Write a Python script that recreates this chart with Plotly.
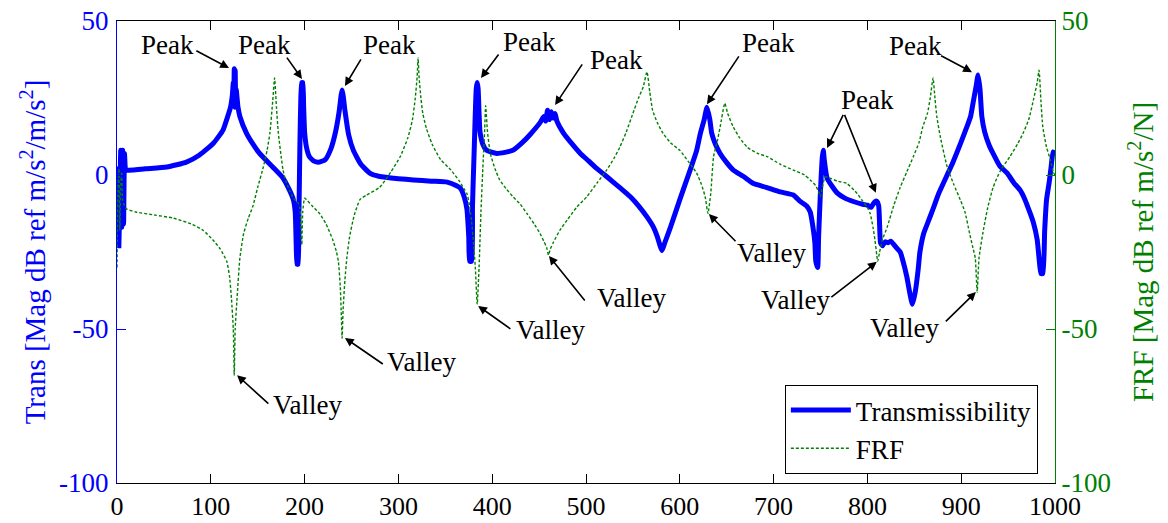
import plotly.graph_objects as go

# ---------------- data ----------------
trans_freq = [0, 1, 2, 3, 4, 5, 6, 7, 8, 9, 10, 17, 30, 53, 74, 88, 103, 113, 118, 121,
              123, 124, 124.5, 125, 125.5, 126, 126.5, 127, 129, 131, 138, 145, 152, 166,
              177, 184, 188, 190, 191, 192, 193, 194, 195, 196, 197, 198, 199, 200, 202,
              205, 210, 216, 222, 228, 233, 237, 239, 240, 241, 243, 247, 252, 260, 270,
              280, 300, 316, 335, 352, 362, 366, 370, 373, 375, 376, 378, 379, 381, 383,
              384, 385, 386, 387, 390, 394, 405, 422, 432, 440, 451, 455, 457, 459, 461,
              463, 465, 467, 469, 476, 484, 494, 503, 511, 520, 529, 538, 547, 556, 565, 572, 576, 579, 581,
              584, 590, 600, 611, 618, 622, 626, 629, 632, 634, 638, 643, 650, 657, 668,
              678, 692, 707, 721, 728, 735, 739, 742, 744, 745, 747, 748, 750, 752, 753,
              754, 757, 762, 768, 776, 785, 795, 800, 804, 806, 808, 810, 812, 813, 814,
              816, 819, 822, 825, 828, 832, 835, 838, 842, 845, 848, 851, 854, 856, 860,
              865, 870, 876, 885, 891, 899, 906, 910, 913, 916, 918, 920, 922, 925, 930,
              934, 941, 949, 956, 963, 968, 973, 977, 981, 983, 985, 987, 989, 991, 994,
              996, 998, 1000]
trans_db = [-22, 2, -23, -8, 8, -17, 8, -16, 7, 2, 1.6, 1.6, 2, 2.6, 4.2, 6.5, 10.4, 14.6, 19, 22,
            26, 30, 23, 34.5, 22, 34, 23, 28, 22, 19, 13.6, 10, 7, 2.6,
            -1, -5, -8, -12, -22, -29, -29, -12, 10, 25, 30, 30, 22, 14, 9,
            6, 4.5, 4.2, 5, 8.5, 14, 21, 26, 27.6, 26, 21, 13, 8, 3.5, 0.5,
            -0.5, -1.2, -1.6, -2, -2.3, -3.5, -4.3, -7, -11, -20, -28, -28, -10, 10, 28,
            30, 28, 20, 14, 10, 8, 7, 8, 10.5, 13, 17, 19, 17.5, 21, 18,
            20.5, 18.5, 20, 17.5, 13.6, 10.5, 7, 4.5, 2.2, 0, -2.3, -4.6, -7, -10, -13.6, -17, -20, -23, -24.5,
            -22, -17, -8, 1.6, 8, 13.6, 18, 22, 18, 13.6, 10, 7, 4, 1.6, -0.5,
            -2.7, -4, -5.5, -6.5, -8.5, -10, -12, -17, -22, -28, -30, -20, -5, 6, 8,
            5, -1, -3.5, -5.9, -7.5, -8.6, -9.5, -9.8, -10.5, -9.5, -8.7, -8.5, -10, -16, -22,
            -23, -21.7, -22, -21.5, -22.5, -24, -25, -28, -33, -38, -42, -38, -31, -25, -19,
            -15, -11, -6, 0, 4, 10, 15.6, 19, 24, 29, 32.5, 28, 19, 14, 9.5,
            7, 3, 0.6, -2.5, -5, -8, -12, -15.5, -21, -27, -32, -32, -18, -8, -2,
            3, 7.5, 7]

frf_freq = [0, 1, 2, 3, 4, 5, 6, 8, 10, 20, 40, 60, 80, 92, 102, 110, 117, 120, 122, 124,
            125, 126, 128, 131, 135, 140, 145, 150, 156, 160, 163, 166, 168, 170, 172,
            175, 177, 180, 184, 188, 193, 195, 196, 197, 198, 200, 202, 208, 216, 223,
            230, 234, 236, 238, 239, 240, 241, 243, 245, 248, 253, 259, 266, 280, 292,
            302, 310, 315, 318, 320, 321, 322, 324, 326, 330, 336, 345, 356, 365, 370,
            373, 376, 378, 380, 382, 384, 386, 388, 390, 392, 393, 395, 398, 403, 408,
            415, 422, 430, 437, 445, 451, 455, 458, 460, 462, 465, 472, 480, 490, 501,
            512, 522, 530, 536, 543, 550, 556, 561, 565, 568, 571, 576, 582, 590, 600,
            610, 618, 623, 627, 630, 633, 636, 640, 643, 648, 651, 657, 664, 672, 683,
            693, 707, 721, 733, 739, 745, 748, 750, 752, 755, 760, 768, 778, 789, 795,
            800, 803, 806, 808, 810, 811, 813, 816, 821, 828, 835, 842, 849, 855, 859,
            864, 867, 870, 872, 874, 878, 885, 892, 899, 904, 909, 912, 915, 917, 919,
            923, 928, 934, 942, 952, 960, 966, 972, 977, 981, 983, 985, 987, 991, 995,
            998, 1000]
frf_db = [-30, -5, 2, -18, -3, 1, -8, -10, -11, -12, -13, -14, -16, -18, -21, -24, -28, -33, -40, -50,
          -65, -50, -40, -27, -19, -14, -10, -4, 2.6, 8, 13.6, 24, 31.5, 22, 13.6,
          6, 1.6, -2, -5, -7.5, -9, -11, -16, -22.7, -12, -7.5, -8, -10, -12.5, -16,
          -21, -25, -28, -36, -44, -53, -44, -34, -27, -20, -13, -8, -6.5, -4, 1,
          6, 12, 18, 25, 32, 38, 32, 25, 20, 15, 10, 5, 1.6, -2, -4.5,
          -6, -10, -15, -22, -30, -42, -30, -12, 2, 15, 22.5, 14, 7, 2, -1.6,
          -4.5, -7, -9.5, -12.5, -16, -19, -21.5, -23.5, -26, -24, -22, -18, -14.6, -10.5, -7,
          -2.5, 1.6, 5.5, 9, 14, 20, 25, 28.6, 33.5, 27, 21, 17, 13.6, 10.5, 8,
          4, 0.6, -3, -7, -12.5, -6, 6, 11, 15.6, 23.3, 20, 15.6, 12, 9, 7,
          6, 3.5, 1.6, 0, -1.6, -3.5, -5.5, -7, -4, -0.6, -1, -2, -2.7, -6, -8.5,
          -10.5, -12.5, -17, -21, -26, -28, -25, -21, -17, -10, -4, 1, 6, 10.5, 15.6,
          20, 25, 31.5, 25, 19, 12, 2.7, -3, -8, -12, -19, -23, -27, -38, -27,
          -19, -11, -4, 1.5, 6, 10, 13.6, 18, 24.4, 30, 34, 24, 15.6, 9, 5,
          1, 0]

x_ticks = [0, 100, 200, 300, 400, 500, 600, 700, 800, 900, 1000]
y_ticks = [-100, -50, 0, 50]
y_tick_text = ["-100", "-50", "0", "50"]

# annotation labels: (text, x, y) and arrows: (tail_x, tail_y, head_x, head_y)
labels = [("Peak", 54, 42.2), ("Peak", 157, 42.2), ("Peak", 291, 42.2), ("Peak", 440, 43.2),
          ("Peak", 533, 37.3), ("Peak", 695, 42.9), ("Peak", 800, 24.4), ("Peak", 851, 41.9),
          ("Valley", 203, -74.7), ("Valley", 325, -60.7), ("Valley", 462, -50.3),
          ("Valley", 548, -40), ("Valley", 698, -25.3), ("Valley", 723, -40.6), ("Valley", 840, -49.7)]
arrows = [(83, 40.6, 119.4, 34.7), (180, 38.6, 197.2, 31.2), (261, 38, 243, 28.9),
          (408, 39.6, 388, 31.5), (497, 36.4, 467, 22.7), (664, 39, 629, 23),
          (775, 20, 757, 8.8), (775, 20, 809, -5.8), (877, 39, 911.5, 33.4),
          (163, -74.7, 128, -65), (285, -61.7, 243, -52.9), (421, -50.3, 385, -42.5),
          (500, -41.2, 460.5, -26.3), (661, -22, 631, -12.7), (760, -40, 810, -28.2),
          (882, -48, 915.7, -38)]

FONT = "Liberation Serif, Times New Roman, serif"
BLUE = "#0000ff"
GREEN = "#008000"

fig = go.Figure()
fig.add_trace(go.Scatter(x=trans_freq, y=trans_db, mode="lines", name="Transmissibility",
                         line=dict(color=BLUE, width=5, shape="spline", smoothing=0.5), yaxis="y"))
fig.add_trace(go.Scatter(x=frf_freq, y=frf_db, mode="lines", name="FRF",
                         line=dict(color=GREEN, width=1.4, dash="3px,2px",
                                   shape="spline", smoothing=0.5), yaxis="y2"))

annotations = []
for t, x, y in labels:
    annotations.append(dict(x=x, y=y, xref="x", yref="y", text=t, showarrow=False,
                            font=dict(family=FONT, size=27, color="black")))
for tx, ty, hx, hy in arrows:
    annotations.append(dict(x=hx, y=hy, ax=tx, ay=ty, xref="x", yref="y", axref="x", ayref="y",
                            text="", showarrow=True, arrowhead=2, arrowsize=1.1,
                            arrowwidth=1.6, arrowcolor="black"))

fig.update_layout(
    width=1168, height=523,
    margin=dict(l=117, r=113, t=21, b=40, autoexpand=False),
    paper_bgcolor="white", plot_bgcolor="white",
    font=dict(family=FONT, size=26, color="black"),
    xaxis=dict(range=[0, 1000], tickvals=x_ticks, ticks="inside", ticklen=9,
               tickcolor="black", showline=True, linecolor="black", linewidth=1,
               mirror="ticks", showgrid=False, zeroline=False, ticklabelstandoff=0,
               automargin=False,
               tickfont=dict(family=FONT, size=26, color="black")),
    yaxis=dict(range=[-100, 50], tickvals=y_ticks, ticktext=y_tick_text, ticks="inside", ticklen=9,
               tickcolor=BLUE, showline=True, linecolor=BLUE, linewidth=1,
               showgrid=False, zeroline=False, ticklabelstandoff=2, automargin=False,
               tickfont=dict(family=FONT, size=27, color=BLUE),
               title=dict(text="Trans [Mag dB ref m/s<sup>2</sup>/m/s<sup>2</sup>]",
                          font=dict(family=FONT, size=29, color=BLUE), standoff=4)),
    yaxis2=dict(range=[-100, 50], tickvals=y_ticks, ticktext=y_tick_text, ticks="inside", ticklen=9,
                tickcolor=GREEN, showline=True, linecolor=GREEN, linewidth=1,
                overlaying="y", side="right", anchor="x", automargin=False,
                showgrid=False, zeroline=False, ticklabelstandoff=0,
                tickfont=dict(family=FONT, size=27, color=GREEN),
                title=dict(text="FRF [Mag dB ref m/s<sup>2</sup>/N]",
                           font=dict(family=FONT, size=29, color=GREEN), standoff=22)),
    legend=dict(x=0.712, y=0.212, xanchor="left", yanchor="top",
                bordercolor="black", borderwidth=1, bgcolor="white",
                itemwidth=60, font=dict(family=FONT, size=27, color="black"),
                tracegroupgap=0),
    showlegend=True,
    annotations=annotations,
)

fig.write_html("out.html", config={"displayModeBar": False},
               post_script="document.body.style.margin='0';")
